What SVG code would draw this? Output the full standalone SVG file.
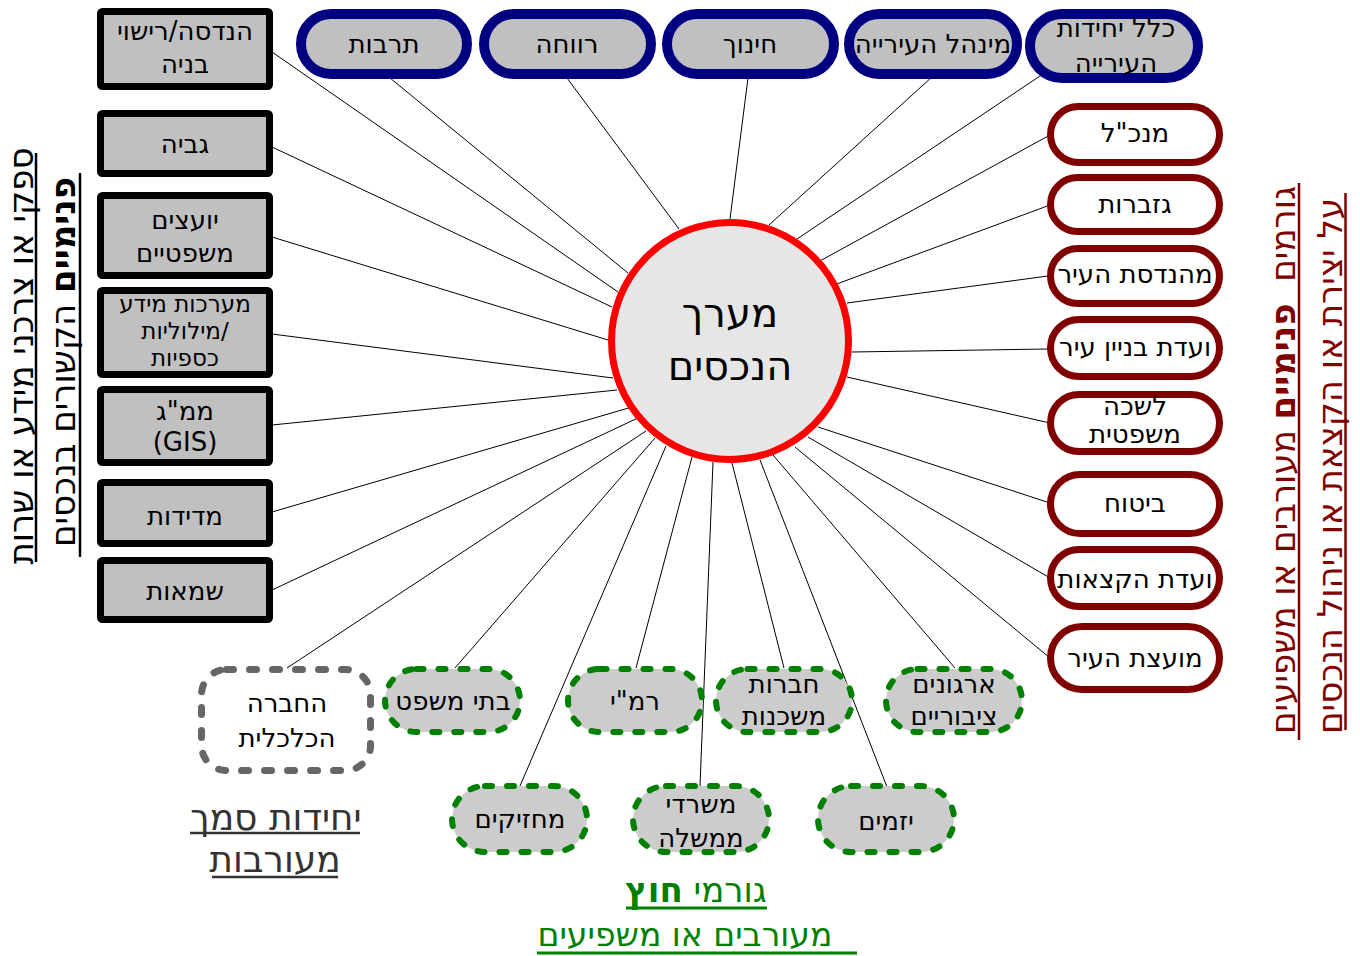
<svg xmlns="http://www.w3.org/2000/svg" width="1360" height="956" viewBox="0 0 1360 956">
<style>
.lb{fill:#c0c0c0;stroke:#000;stroke-width:7}
.tp{fill:#c0c0c0;stroke:#000080;stroke-width:10}
.rp{fill:#fff;stroke:#800000;stroke-width:7}
.gp{fill:#cccccc;stroke:#008000;stroke-width:6;stroke-dasharray:7 15;stroke-linecap:round}
.gb{fill:#fff;stroke:#666;stroke-width:7;stroke-dasharray:7 16;stroke-linecap:round}
text{font-family:"DejaVu Sans","Noto Sans",sans-serif}
.t{font-size:26px;text-anchor:middle;fill:#000}
.s{font-size:23px}
.c{font-size:40px;text-anchor:middle;fill:#000}
.v{font-size:34px;text-anchor:middle}
.ul{stroke-width:2.5}
#connectors line{stroke:#000;stroke-width:1}
</style>
<rect width="1360" height="956" fill="#fff"/>
<g id="connectors">
<line x1="272" y1="52" x2="618" y2="292"/>
<line x1="390" y1="78" x2="628" y2="273"/>
<line x1="272" y1="147" x2="612" y2="307"/>
<line x1="272" y1="237" x2="608" y2="340"/>
<line x1="272" y1="334" x2="613" y2="378"/>
<line x1="272" y1="425" x2="617" y2="390"/>
<line x1="272" y1="512" x2="632" y2="407"/>
<line x1="272" y1="590" x2="640" y2="417"/>
<line x1="287" y1="668" x2="646" y2="431"/>
<line x1="455" y1="668" x2="655" y2="438"/>
<line x1="520" y1="786" x2="666" y2="446"/>
<line x1="636" y1="668" x2="692" y2="457"/>
<line x1="700" y1="786" x2="713" y2="462"/>
<line x1="784" y1="668" x2="732" y2="463"/>
<line x1="887" y1="787" x2="760" y2="460"/>
<line x1="955" y1="668" x2="773" y2="455"/>
<line x1="1050" y1="658" x2="795" y2="447"/>
<line x1="1050" y1="578" x2="808" y2="437"/>
<line x1="1050" y1="503" x2="818" y2="427"/>
<line x1="1050" y1="423" x2="847" y2="377"/>
<line x1="1048" y1="349" x2="852" y2="352"/>
<line x1="1048" y1="276" x2="847" y2="303"/>
<line x1="1050" y1="205" x2="834" y2="285"/>
<line x1="1050" y1="135" x2="818" y2="262"/>
<line x1="1043" y1="74" x2="797" y2="239"/>
<line x1="933" y1="76" x2="769" y2="225"/>
<line x1="748" y1="78" x2="730" y2="219"/>
<line x1="567" y1="78" x2="679" y2="229"/>
</g>

<g id="center">
<circle cx="730" cy="341" r="118.5" fill="#e6e6e6" stroke="#ff0000" stroke-width="7"/>
<text class="c" x="730" y="327">מערך</text>
<text class="c" x="730" y="380">הנכסים</text>
</g>

<g id="l1"><rect class="lb" x="100.5" y="11.5" width="169" height="75" rx="2"/><text class="t" x="185" y="40">הנדסה/רישוי</text><text class="t" x="185" y="73">בניה</text></g>
<g id="l2"><rect class="lb" x="100.5" y="113.5" width="169" height="60" rx="2"/><text class="t" x="185" y="153">גביה</text></g>
<g id="l3"><rect class="lb" x="100.5" y="195.5" width="169" height="80" rx="2"/><text class="t" x="185" y="229">יועצים</text><text class="t" x="185" y="262">משפטיים</text></g>
<g id="l4"><rect class="lb" x="100.5" y="290.5" width="169" height="84" rx="2"/><text class="t s" x="185" y="312">מערכות מידע</text><text class="t s" x="185" y="339">מילוליות/</text><text class="t s" x="185" y="366">כספיות</text></g>
<g id="l5"><rect class="lb" x="100.5" y="389.5" width="169" height="73" rx="2"/><text class="t" x="185" y="420">ממ"ג</text><text class="t" x="185" y="451">(GIS)</text></g>
<g id="l6"><rect class="lb" x="100.5" y="482.5" width="169" height="61" rx="2"/><text class="t" x="185" y="525">מדידות</text></g>
<g id="l7"><rect class="lb" x="100.5" y="560.5" width="169" height="59" rx="2"/><text class="t" x="185" y="600">שמאות</text></g>

<g id="t1"><rect class="tp" x="301" y="14" width="166" height="60" rx="30"/><text class="t" x="384" y="53">תרבות</text></g>
<g id="t2"><rect class="tp" x="484" y="14" width="167" height="60" rx="30"/><text class="t" x="567" y="53">רווחה</text></g>
<g id="t3"><rect class="tp" x="667" y="14" width="167" height="60" rx="30"/><text class="t" x="750" y="53">חינוך</text></g>
<g id="t4"><rect class="tp" x="849" y="14" width="168" height="60" rx="30"/><text class="t" x="933" y="53">מינהל העירייה</text></g>
<g id="t5"><rect class="tp" x="1030" y="14" width="168" height="64" rx="32"/><text class="t" x="1116" y="37">כלל יחידות</text><text class="t" x="1116" y="72">העירייה</text></g>

<g id="r1"><rect class="rp" x="1050.5" y="106.5" width="169" height="56" rx="28"/><text class="t" x="1135" y="142">מנכ"ל</text></g>
<g id="r2"><rect class="rp" x="1050.5" y="177.5" width="169" height="54" rx="27"/><text class="t" x="1135" y="213">גזברות</text></g>
<g id="r3"><rect class="rp" x="1050.5" y="248.5" width="169" height="55" rx="27.5"/><text class="t" x="1135" y="283">מהנדסת העיר</text></g>
<g id="r4"><rect class="rp" x="1050.5" y="319.5" width="169" height="57" rx="28.5"/><text class="t" x="1135" y="356">ועדת בניין עיר</text></g>
<g id="r5"><rect class="rp" x="1050.5" y="394.5" width="169" height="57" rx="28.5"/><text class="t" x="1135" y="415">לשכה</text><text class="t" x="1135" y="443">משפטית</text></g>
<g id="r6"><rect class="rp" x="1050.5" y="474.5" width="169" height="59" rx="29.5"/><text class="t" x="1135" y="512">ביטוח</text></g>
<g id="r7"><rect class="rp" x="1050.5" y="549.5" width="169" height="57" rx="28.5"/><text class="t" x="1135" y="588">ועדת הקצאות</text></g>
<g id="r8"><rect class="rp" x="1050.5" y="626.5" width="169" height="63" rx="31.5"/><text class="t" x="1135" y="667">מועצת העיר</text></g>

<g id="b1"><rect class="gp" x="385" y="669" width="135" height="63" rx="31.5"/><text class="t" x="453" y="710">בתי משפט</text></g>
<g id="b2"><rect class="gp" x="568" y="669" width="134" height="63" rx="31.5"/><text class="t" x="635" y="710">רמ"י</text></g>
<g id="b3"><rect class="gp" x="716" y="669" width="136" height="63" rx="31.5"/><text class="t" x="784" y="693">חברות</text><text class="t" x="784" y="725">משכנות</text></g>
<g id="b4"><rect class="gp" x="886" y="669" width="136" height="63" rx="31.5"/><text class="t" x="954" y="693">ארגונים</text><text class="t" x="954" y="725">ציבוריים</text></g>
<g id="b5"><rect class="gp" x="452" y="786" width="135" height="66" rx="33"/><text class="t" x="520" y="828">מחזיקים</text></g>
<g id="b6"><rect class="gp" x="633" y="786" width="136" height="66" rx="33"/><text class="t" x="701" y="813">משרדי</text><text class="t" x="701" y="847">ממשלה</text></g>
<g id="b7"><rect class="gp" x="818" y="786" width="136" height="66" rx="33"/><text class="t" x="886" y="830">יזמים</text></g>

<g id="g1"><rect class="gb" x="201.5" y="669.5" width="169" height="101" rx="25"/><text class="t" x="287" y="712">החברה</text><text class="t" x="287" y="747">הכלכלית</text></g>

<g id="label-left">
<text class="v" transform="translate(33,356) rotate(-90)" fill="#000" font-size="32.5">ספקי או צרכני מידע או שרות</text>
<line class="ul" x1="36" y1="153" x2="36" y2="562" stroke="#000"/>
<text class="v" transform="translate(75,362) rotate(-90)" fill="#000"><tspan font-weight="bold">פנימיים</tspan> הקשורים בנכסים</text>
<line class="ul" x1="80" y1="173" x2="80" y2="557" stroke="#000"/>
</g>

<g id="label-right">
<text class="v" xml:space="preserve" transform="translate(1295,460) rotate(-90)" fill="#800000">גורמים  <tspan font-weight="bold">פנימיים</tspan> מעורבים או משפיעים</text>
<line class="ul" x1="1299" y1="183" x2="1299" y2="740" stroke="#800000"/>
<text class="v" transform="translate(1342,466) rotate(-90)" fill="#800000">על יצירת או הקצאת או ניהול הנכסים</text>
<line class="ul" x1="1345.5" y1="193" x2="1345.5" y2="730" stroke="#800000"/>
</g>

<g id="label-sub">
<text x="276" y="830" font-size="36" text-anchor="middle" fill="#333">יחידות סמך</text>
<line x1="190" y1="833" x2="360" y2="833" stroke="#333" stroke-width="2.5"/>
<text x="275" y="872" font-size="36" text-anchor="middle" fill="#333">מעורבות</text>
<line x1="212" y1="877" x2="338" y2="877" stroke="#333" stroke-width="2.5"/>
</g>

<g id="label-ext">
<text x="696" y="902" font-size="34" text-anchor="middle" fill="#008000">גורמי <tspan font-weight="bold">חוץ</tspan></text>
<line x1="626" y1="908" x2="767" y2="908" stroke="#008000" stroke-width="3"/>
<text x="685" y="946" font-size="33" text-anchor="middle" fill="#008000">מעורבים או משפיעים</text>
<line x1="537" y1="953" x2="857" y2="953" stroke="#008000" stroke-width="3"/>
</g>
</svg>
